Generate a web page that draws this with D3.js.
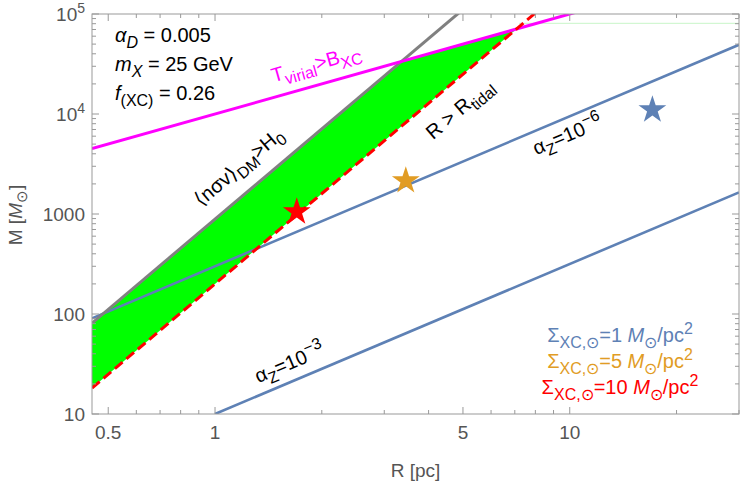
<!DOCTYPE html>
<html>
<head>
<meta charset="utf-8">
<script src="https://cdn.jsdelivr.net/npm/d3@7"></script>
<style>
  body { margin: 0; background: #fff; }
  text { font-family: "Liberation Sans", Arial, sans-serif; }
</style>
</head>
<body>
<div id="chart"></div>
<script>
// line end points [R (pc), M (Msun)]
var hubbleLine = [[0.45, 81], [5.0, 111000]];
var tidalLine = [[0.45, 18.2], [8.5, 122800]];
var virialLine = [[0.45, 4500], [11, 110000]];
var alphaZ6Line = [[0.45, 90.6], [30, 49300]];
var alphaZ3Line = [[1, 10], [30, 1643]];
var topEdgeLine = [[7.2, 80700], [30, 80700]];

// stars [R, M]
var starPoints = [[17.1, 11000], [3.45, 2150], [1.7, 1050]];
var starColors = ["#5E81B5", "#E19C24", "#FF0000"];

// ticks
var xMajor = [0.5, 1, 5, 10];
var xMajorLabels = ["0.5", "1", "5", "10"];
var xMinor = [0.6, 0.7, 0.8, 0.9, 2, 3, 4, 6, 7, 8, 9, 20, 30];
var yMajor = [10, 100, 1000, 10000, 100000];
var yMinor = [20, 30, 40, 50, 60, 70, 80, 90, 200, 300, 400, 500, 600, 700, 800, 900,
    2000, 3000, 4000, 5000, 6000, 7000, 8000, 9000, 20000, 30000, 40000, 50000, 60000, 70000, 80000, 90000];

var width = 750, height = 490;
var margin = { top: 14, right: 11, bottom: 76, left: 92 };
var w = width - margin.left - margin.right;
var h = height - margin.top - margin.bottom;

var x = d3.scaleLog().domain([0.45, 30]).range([0, w]);
var y = d3.scaleLog().domain([10, 100000]).range([h, 0]);

var svg = d3.select("#chart").append("svg")
    .attr("width", width)
    .attr("height", height);

svg.append("defs").append("clipPath").attr("id", "plotclip")
    .append("rect").attr("width", w).attr("height", h);

var g = svg.append("g")
    .attr("transform", "translate(" + margin.left + "," + margin.top + ")");

var plot = g.append("g").attr("clip-path", "url(#plotclip)");

// log-space helpers for straight lines
function lineAt(seg, r) {
    var lx0 = Math.log10(seg[0][0]), ly0 = Math.log10(seg[0][1]);
    var lx1 = Math.log10(seg[1][0]), ly1 = Math.log10(seg[1][1]);
    var k = (ly1 - ly0) / (lx1 - lx0);
    return Math.pow(10, ly0 + k * (Math.log10(r) - lx0));
}
function crossing(a, b) {
    var ka = (Math.log10(a[1][1]) - Math.log10(a[0][1])) / (Math.log10(a[1][0]) - Math.log10(a[0][0]));
    var kb = (Math.log10(b[1][1]) - Math.log10(b[0][1])) / (Math.log10(b[1][0]) - Math.log10(b[0][0]));
    var ca = Math.log10(a[0][1]) - ka * Math.log10(a[0][0]);
    var cb = Math.log10(b[0][1]) - kb * Math.log10(b[0][0]);
    var lr = (cb - ca) / (ka - kb);
    return [Math.pow(10, lr), Math.pow(10, ca + ka * lr)];
}
function angleOf(seg) {
    var dx = x(seg[1][0]) - x(seg[0][0]);
    var dy = y(seg[1][1]) - y(seg[0][1]);
    return Math.atan2(dy, dx) * 180 / Math.PI;
}

var line = d3.line().x(function (d) { return x(d[0]); }).y(function (d) { return y(d[1]); });

// green allowed region
var pHV = crossing(hubbleLine, virialLine);
var pTV = crossing(tidalLine, virialLine);
var region = [
    [0.45, lineAt(tidalLine, 0.45)],
    [0.45, lineAt(hubbleLine, 0.45)],
    pHV, pTV
];
plot.append("path")
    .attr("d", line(region) + "Z")
    .attr("fill", "#00FF00");

plot.append("path").attr("d", line(topEdgeLine))
    .attr("stroke", "#c8f5c8").attr("stroke-width", 1).attr("fill", "none");

function drawLine(seg, color, sw, dash) {
    var p = plot.append("path").attr("d", line(seg))
        .attr("fill", "none").attr("stroke", color).attr("stroke-width", sw);
    if (dash) p.attr("stroke-dasharray", dash);
}
drawLine(alphaZ3Line, "#5E81B5", 2.6);
drawLine(alphaZ6Line, "#5E81B5", 2.6);
drawLine(hubbleLine, "#808080", 3);
drawLine(virialLine, "#FF00FF", 3);
drawLine(tidalLine, "#FF0000", 3, "10,5");

// stars
plot.selectAll(".star").data(starPoints).enter().append("path")
    .attr("class", "star")
    .attr("d", d3.symbol().type(d3.symbolStar).size(240))
    .attr("transform", function (d) { return "translate(" + x(d[0]) + "," + y(d[1]) + ")"; })
    .attr("fill", function (d, i) { return starColors[i]; });

// frame and ticks
var frameColor = "#999";
g.append("rect").attr("width", w).attr("height", h)
    .attr("fill", "none").attr("stroke", frameColor).attr("stroke-width", 1);

function ticks(vals, len) {
    vals.forEach(function (v) {
        var px = x(v);
        g.append("line").attr("x1", px).attr("x2", px).attr("y1", h).attr("y2", h - len)
            .attr("stroke", frameColor);
        g.append("line").attr("x1", px).attr("x2", px).attr("y1", 0).attr("y2", len)
            .attr("stroke", frameColor);
    });
}
function yticks(vals, len) {
    vals.forEach(function (v) {
        var py = y(v);
        g.append("line").attr("x1", 0).attr("x2", len).attr("y1", py).attr("y2", py)
            .attr("stroke", frameColor);
        g.append("line").attr("x1", w).attr("x2", w - len).attr("y1", py).attr("y2", py)
            .attr("stroke", frameColor);
    });
}
ticks(xMajor, 7);
ticks(xMinor, 4);
yticks(yMajor, 7);
yticks(yMinor, 4);

var labelColor = "#555";
var tickFs = 19;
xMajor.forEach(function (v, i) {
    g.append("text").attr("x", x(v)).attr("y", h + 25)
        .attr("text-anchor", "middle").attr("font-size", tickFs).attr("fill", labelColor)
        .text(xMajorLabels[i]);
});

yMajor.forEach(function (v) {
    var t = g.append("text").attr("x", -7).attr("y", y(v) + 7)
        .attr("text-anchor", "end").attr("font-size", tickFs).attr("fill", labelColor);
    if (v >= 10000) {
        t.append("tspan").text("10");
        t.append("tspan").attr("dy", -8).attr("font-size", 14).text(String(Math.log10(v)));
    } else {
        t.text(String(v));
    }
});

// rich text helper: parts = [[text, kind]] kind: "", "sub", "sup", "i", "isub"
function rich(sel, parts, size) {
    var shift = 0;
    parts.forEach(function (p) {
        var kind = p[1] || "";
        var ts = sel.append("tspan").text(p[0]);
        var target = 0;
        if (kind.indexOf("sub") >= 0) target = size * 0.28;
        if (kind.indexOf("sup") >= 0) target = -size * 0.42;
        ts.attr("dy", target - shift);
        shift = target;
        if (kind.indexOf("sub") >= 0 || kind.indexOf("sup") >= 0) ts.attr("font-size", size * 0.8);
        if (kind.indexOf("i") === 0) ts.attr("font-style", "italic");
    });
    return sel;
}

// axis titles
rich(g.append("text").attr("x", w / 2).attr("y", h + 63)
    .attr("text-anchor", "middle").attr("font-size", 19).attr("fill", labelColor),
    [["R [pc]"]], 19);

rich(svg.append("text").attr("transform", "translate(22,215) rotate(-90)")
    .attr("text-anchor", "middle").attr("font-size", 19).attr("fill", labelColor),
    [["M ["], ["M", "i"], ["\u2299", "sub"], ["]"]], 19);

// parameter block
var fs = 20;
rich(svg.append("text").attr("x", 115).attr("y", 42).attr("font-size", fs),
    [["\u03B1", "i"], ["D", "isub"], [" = 0.005"]], fs);
rich(svg.append("text").attr("x", 115).attr("y", 71).attr("font-size", fs),
    [["m", "i"], ["X", "isub"], [" = 25 GeV"]], fs);
rich(svg.append("text").attr("x", 115).attr("y", 100).attr("font-size", fs),
    [["f", "i"], ["(XC)", "sub"], [" = 0.26"]], fs);

// line labels
function lineLabel(cx, cy, seg, color, parts) {
    var t = svg.append("text")
        .attr("transform", "translate(" + cx + "," + cy + ") rotate(" + angleOf(seg) + ")")
        .attr("text-anchor", "middle").attr("font-size", 20).attr("fill", color);
    rich(t, parts, 20);
}
lineLabel(318, 70, virialLine, "#FF00FF", [["T"], ["virial", "sub"], [">B"], ["XC", "sub"]]);
lineLabel(243, 172, hubbleLine, "#000", [["\u27E8n\u03C3v\u27E9"], ["DM", "sub"], [">H"], ["0", "sub"]]);
lineLabel(464, 114, tidalLine, "#000", [["R > R"], ["tidal", "sub"]]);
lineLabel(570, 141, alphaZ6Line, "#000", [["\u03B1"], ["Z", "sub"], ["=10"], ["\u22126", "sup"]]);
lineLabel(292, 369, alphaZ3Line, "#000", [["\u03B1"], ["Z", "sub"], ["=10"], ["\u22123", "sup"]]);

// surface density legend
var legendVals = ["1", "5", "10"];
legendVals.forEach(function (v, i) {
    var t = svg.append("text").attr("x", 620).attr("y", 342 + i * 26)
        .attr("text-anchor", "middle").attr("font-size", 20).attr("fill", starColors[i]);
    rich(t, [["\u03A3"], ["XC,\u2299", "sub"], ["=" + v + " "], ["M", "i"], ["\u2299", "sub"], ["/pc"], ["2", "sup"]], 20);
});
</script>
</body>
</html>
